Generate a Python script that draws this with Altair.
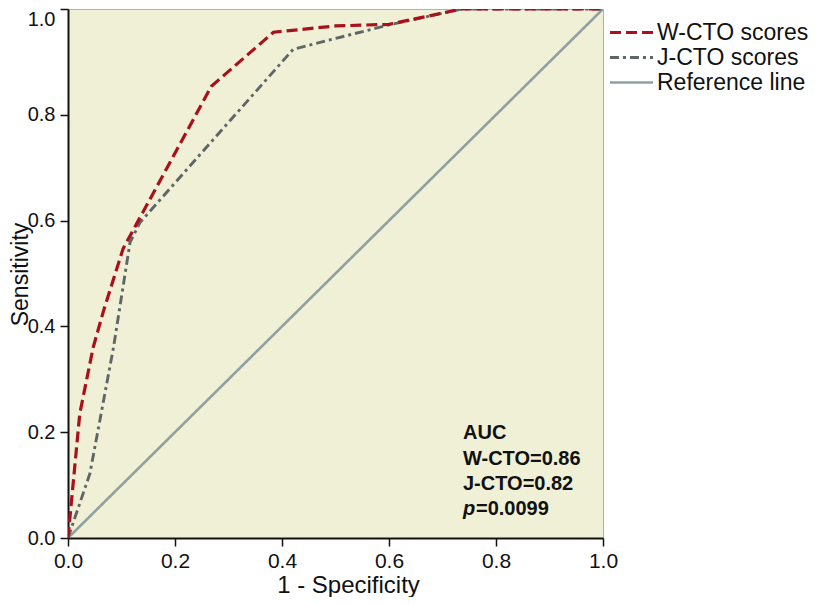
import altair as alt
import pandas as pd

# ROC curve readings
w_fpr = [0.0, 0.022, 0.047, 0.066, 0.103, 0.268, 0.384, 0.50, 0.60, 0.736, 1.0]
w_tpr = [0.0, 0.235, 0.36, 0.428, 0.547, 0.854, 0.956, 0.968, 0.971, 1.0, 1.0]
j_fpr = [0.0, 0.041, 0.085, 0.116, 0.135, 0.421, 0.60, 0.736, 1.0]
j_tpr = [0.0, 0.122, 0.36, 0.559, 0.597, 0.924, 0.97, 1.0, 1.0]
ref_fpr = [0.0, 1.0]
ref_tpr = [0.0, 1.0]

series_names = ["W-CTO scores", "J-CTO scores", "Reference line"]
series_colors = ["#A8101C", "#5E6668", "#8FA0A0"]
series_dash = [[11, 5], [9, 4, 3, 4], [1, 0]]
series_width = [3.2, 2.6, 0.8]

tick_values = [0.0, 0.2, 0.4, 0.6, 0.8, 1.0]
auc_lines = ["AUC", "W-CTO=0.86", "J-CTO=0.82"]
p_label = "p"
p_value = "=0.0099"

rows = []
for name, xs, ys in [(series_names[0], w_fpr, w_tpr),
                     (series_names[1], j_fpr, j_tpr),
                     (series_names[2], ref_fpr, ref_tpr)]:
    for i, (a, b) in enumerate(zip(xs, ys)):
        rows.append({"series": name, "fpr": a, "tpr": b, "idx": i})
df = pd.DataFrame(rows)

FONT = "Liberation Sans, Arial, sans-serif"
H = 529
W = 535

x_enc = alt.X("fpr:Q", scale=alt.Scale(domain=[0, 1], nice=False),
              axis=alt.Axis(values=tick_values, format=".1f", title="1 - Specificity",
                            labelFlush=False, labelFontSize=21, labelPadding=4,
                            titleX=280, titleY=54, titleBaseline="alphabetic",
                            titleFontSize=24))
y_enc = alt.Y("tpr:Q", scale=alt.Scale(domain=[0, 1], nice=False),
              axis=alt.Axis(values=tick_values, format=".1f", title="Sensitivity",
                            labelFlush=False, labelFontSize=20, labelPadding=5,
                            labelBaseline={"condition": {"test": "datum.value == 1", "value": "top"},
                                           "value": "middle"},
                            titleX=-41, titleY=265, titleBaseline="alphabetic",
                            titleAlign="center", titleAngle=270, titleFontSize=23))
color_enc = alt.Color("series:N", scale=alt.Scale(domain=series_names, range=series_colors),
                      legend=alt.Legend(title=None, orient="none", legendX=552, legendY=12,
                                        symbolType="M-4,0H4", symbolSize=116,
                                        labelFont=FONT, labelFontSize=23,
                                        labelColor="#111", labelOffset=14, rowPadding=1,
                                        labelLimit=300, padding=0))
dash_enc = alt.StrokeDash("series:N", scale=alt.Scale(domain=series_names, range=series_dash),
                          legend=None)
width_enc = alt.StrokeWidth("series:N", scale=alt.Scale(domain=series_names, range=series_width),
                            legend=None)

base = alt.Chart(df).mark_line(clip=True).encode(
    x=x_enc, y=y_enc, color=color_enc, strokeDash=dash_enc, strokeWidth=width_enc,
    order="idx:Q")

layers = [base.transform_filter(alt.datum.series == s) for s in reversed(series_names)]

one = pd.DataFrame({"k": [0]})
auc_text = alt.Chart(one).mark_text(
    align="left", baseline="alphabetic", font=FONT, fontSize=20, fontWeight="bold",
    lineHeight=25.5, color="#111", text=auc_lines).encode(
    x=alt.value(395), y=alt.value(430))
p_text = alt.Chart(one).mark_text(
    align="left", baseline="alphabetic", font=FONT, fontSize=20, fontWeight="bold",
    fontStyle="italic", color="#111", text=p_label).encode(
    x=alt.value(395), y=alt.value(506))
pv_text = alt.Chart(one).mark_text(
    align="left", baseline="alphabetic", font=FONT, fontSize=20, fontWeight="bold",
    color="#111", text=p_value).encode(
    x=alt.value(408), y=alt.value(506))

chart = alt.layer(*layers, auc_text, p_text, pv_text).properties(
    width=W, height=H,
    autosize=alt.AutoSizeParams(type="none"),
    padding={"left": 60, "top": 1, "right": 210, "bottom": 59},
    background="white",
).configure_view(
    fill="#F0F0D6", stroke="#A8B6B6", strokeWidth=1
).configure_axis(
    grid=False, domainColor="#111", domainWidth=2, tickColor="#111", tickWidth=1.5,
    tickSize=8, labelFont=FONT, labelColor="#111",
    titleFont=FONT, titleFontWeight="normal", titleColor="#111"
)

chart.save("out.html", embed_options={"renderer": "svg", "actions": False})
